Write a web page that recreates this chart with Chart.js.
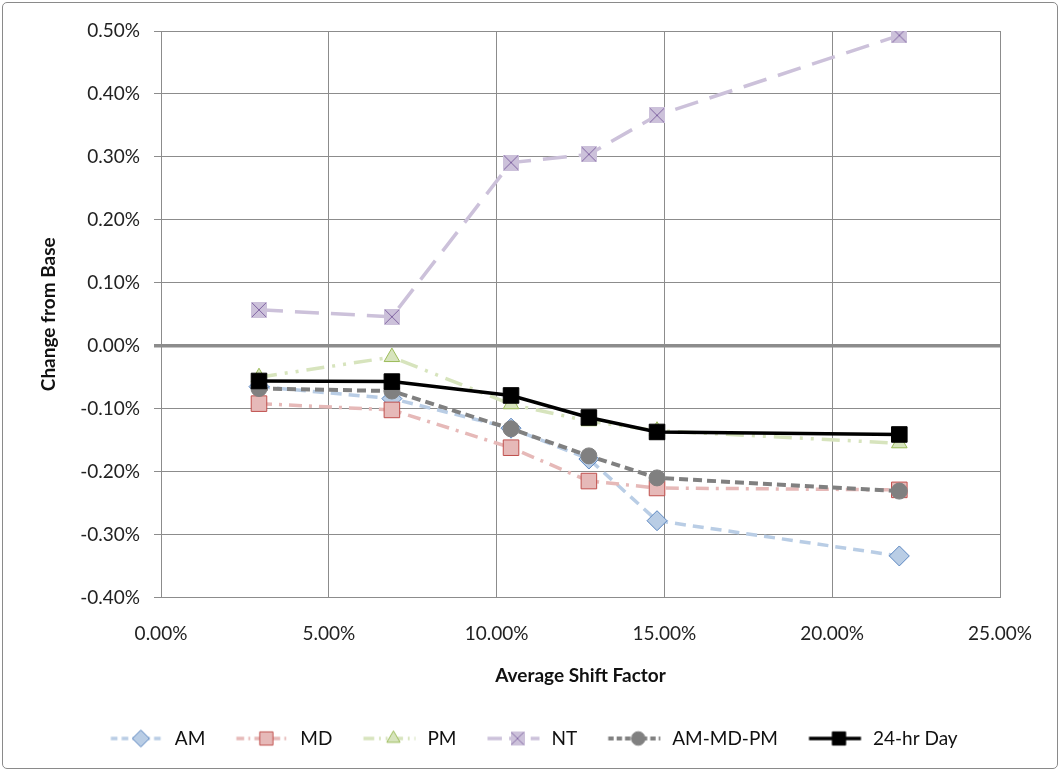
<!DOCTYPE html>
<html>
<head>
<meta charset="utf-8">
<script src="https://cdn.jsdelivr.net/npm/chart.js@4.4.0/dist/chart.umd.min.js"></script>
<style>
  html, body { margin: 0; padding: 0; background: #fff; }
  #wrap { position: relative; width: 1061px; height: 771px; }
  #frame { position: absolute; left: 2px; top: 2px; right: 3px; bottom: 2px;
           border: 1px solid #8a8a8a; border-radius: 5px; pointer-events: none; }
</style>
</head>
<body>
<div id="wrap">
  <canvas id="chart" width="1061" height="771"></canvas>
  <div id="frame"></div>
</div>
<script>
const shiftFactor = [2.92, 6.88, 10.43, 12.75, 14.78, 22.00];

const amVals     = [-0.065, -0.084, -0.131, -0.180, -0.278, -0.334];
const mdVals     = [-0.092, -0.102, -0.162, -0.215, -0.226, -0.229];
const pmVals     = [-0.050, -0.018, -0.093, -0.120, -0.135, -0.155];
const ntVals     = [0.057, 0.046, 0.291, 0.304, 0.366, 0.493];
const amMdPmVals = [-0.068, -0.072, -0.132, -0.175, -0.210, -0.231];
const dayVals    = [-0.056, -0.057, -0.079, -0.114, -0.137, -0.141];

const seriesNames = ["AM", "MD", "PM", "NT", "AM-MD-PM", "24-hr Day"];

const FONT = "Lato, 'Open Sans', sans-serif";

function ntMarker(size) {
  const c = document.createElement("canvas");
  c.width = size; c.height = size;
  const g = c.getContext("2d");
  g.fillStyle = "#ccc1da";
  g.fillRect(0, 0, size, size);
  g.strokeStyle = "#8064a2";
  g.lineWidth = 1;
  g.beginPath();
  g.moveTo(1, 1); g.lineTo(size - 1, size - 1);
  g.moveTo(size - 1, 1); g.lineTo(1, size - 1);
  g.stroke();
  return c;
}

const styles = [
  { color: "#b9cde5", dash: [11, 7], width: 3.5, point: "rectRot", radius: 10, fill: "#b9cde5", border: "#5b86c0" },
  { color: "#e6b9b8", dash: [13, 7, 3, 7], width: 3.5, point: "rect", radius: 11, fill: "#e6b9b8", border: "#c0504d" },
  { color: "#d7e4bd", dash: [18, 8, 3, 8, 3, 8], width: 3.5, point: "triangle", radius: 9, fill: "#d7e4bd", border: "#9bbb59" },
  { color: "#ccc1da", dash: [24, 12], width: 3.5, point: ntMarker(16), radius: 8, fill: "#ccc1da", border: "#8064a2" },
  { color: "#808080", dash: [9, 5], width: 4, point: "circle", radius: 8, fill: "#808080", border: "#808080" },
  { color: "#000000", dash: [], width: 3.5, point: "rect", radius: 11, fill: "#000000", border: "#000000" }
];

const valueSets = [amVals, mdVals, pmVals, ntVals, amMdPmVals, dayVals];

// legend sample: short line with the marker on it, marker sits near the right
const LEG_W = 75;
function legendSample(st) {
  const c = document.createElement("canvas");
  c.width = LEG_W; c.height = 22;
  const g = c.getContext("2d");
  const mx = 50.5, cy = 11;
  g.strokeStyle = st.color;
  g.lineWidth = st.width;
  g.setLineDash(st.dash.map((d) => d * 0.6));
  g.beginPath(); g.moveTo(mx - 30, cy); g.lineTo(mx + 22, cy); g.stroke();
  g.setLineDash([]);
  if (typeof st.point === "string") {
    g.fillStyle = st.fill;
    g.strokeStyle = st.border;
    g.lineWidth = 1;
    Chart.helpers.drawPoint(g, { pointStyle: st.point, radius: st.radius * 0.85, borderWidth: 1, rotation: 0 }, mx, cy);
  } else {
    g.drawImage(st.point, mx - 7, cy - 7, 14, 14);
  }
  return c;
}

const datasets = seriesNames.map((name, i) => {
  const st = styles[i];
  return {
    label: name,
    data: shiftFactor.map((x, k) => ({ x: x, y: valueSets[i][k] })),
    borderColor: st.color,
    borderWidth: st.width,
    borderDash: st.dash,
    pointStyle: st.point,
    pointRadius: st.radius,
    pointHoverRadius: st.radius,
    pointBackgroundColor: st.fill,
    pointBorderColor: st.border,
    pointBorderWidth: 1,
    fill: false,
    tension: 0,
    order: 6 - i
  };
});

// the legend row sits a bit right of the plot centre in the original
const legendShift = {
  id: "legendShift",
  afterLayout(chart) {
    if (!chart.legend) return;
    chart.legend.left += 24;
    chart.legend.right += 24;
  }
};

new Chart(document.getElementById("chart"), {
  type: "line",
  data: { datasets },
  options: {
    responsive: false,
    animation: false,
    layout: { padding: { left: 0, right: 61, top: 31, bottom: 13 } },
    scales: {
      x: {
        type: "linear",
        min: 0, max: 25,
        afterFit: (s) => { s.height = 121; },
        ticks: { stepSize: 5, color: "#222", padding: 25,
                 font: { family: FONT, size: 19 },
                 callback: (v) => v.toFixed(2) + "%" },
        grid: { color: "#8c8c8c", lineWidth: 1, drawTicks: false },
        border: { color: "#8c8c8c" },
        title: { display: true, text: "Average Shift Factor", color: "#111",
                 font: { family: FONT, size: 19, weight: "bold" },
                 padding: { top: 0, bottom: 31 } }
      },
      y: {
        min: -0.4, max: 0.5,
        afterFit: (s) => { s.width = 161; },
        ticks: { stepSize: 0.1, color: "#222", padding: 14,
                 font: { family: FONT, size: 19 },
                 callback: (v) => v.toFixed(2) + "%" },
        grid: {
          color: "#8c8c8c",
          lineWidth: (c) => (c.tick && Math.abs(c.tick.value) < 1e-9 ? 3.5 : 1),
          tickLength: 7
        },
        border: { color: "#8c8c8c" },
        title: { display: true, text: "Change from Base", color: "#111",
                 font: { family: FONT, size: 19, weight: "bold" },
                 padding: { top: 37, bottom: 0 } }
      }
    },
    plugins: {
      tooltip: { enabled: false },
      legend: {
        position: "bottom",
        labels: {
          usePointStyle: true,
          pointStyleWidth: LEG_W,
          padding: 10.5,
          color: "#111",
          font: { family: FONT, size: 19 },
          sort: (a, b) => a.datasetIndex - b.datasetIndex,
          generateLabels: (chart) => chart.data.datasets.map((ds, i) => ({
            text: ds.label,
            datasetIndex: i,
            pointStyle: legendSample(styles[i]),
            fillStyle: "rgba(0,0,0,0)",
            strokeStyle: "rgba(0,0,0,0)",
            lineWidth: 0,
            hidden: false,
            fontColor: "#111"
          }))
        }
      }
    }
  },
  plugins: [legendShift]
});
</script>
</body>
</html>
